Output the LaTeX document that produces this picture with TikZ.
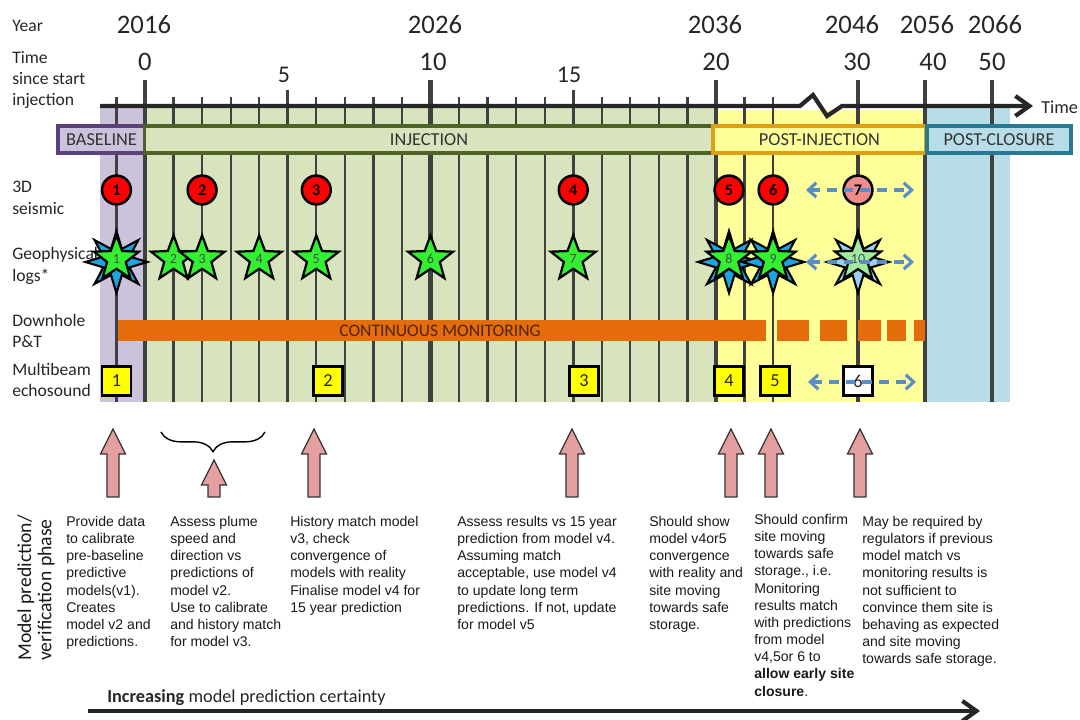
\documentclass[tikz,border=0pt]{standalone}
\usepackage{fontspec}
\setmainfont{Carlito}
\newfontfamily\arialfont{Liberation Sans}
\usepackage{xcolor}
\usetikzlibrary{shapes.geometric, decorations.pathreplacing, arrows.meta}
\definecolor{basebg}{RGB}{204,194,220}
\definecolor{basedark}{RGB}{90,66,120}
\definecolor{injbg}{RGB}{215,228,189}
\definecolor{injdark}{RGB}{79,98,40}
\definecolor{postbg}{RGB}{255,255,153}
\definecolor{postdark}{RGB}{222,160,20}
\definecolor{closebg}{RGB}{183,221,232}
\definecolor{closedark}{RGB}{40,120,145}
\definecolor{monorange}{RGB}{228,108,10}
\definecolor{montext}{RGB}{80,35,5}
\definecolor{seisred}{RGB}{255,0,0}
\definecolor{seispink}{RGB}{240,140,140}
\definecolor{loggreen}{RGB}{51,240,51}
\definecolor{logblue}{RGB}{30,165,225}
\definecolor{palegreen}{RGB}{160,235,160}
\definecolor{paleblue}{RGB}{155,210,240}
\definecolor{echoyellow}{RGB}{255,255,0}
\definecolor{rangeblue}{RGB}{90,140,200}
\definecolor{arrowpink}{RGB}{228,160,160}
\definecolor{gridgray}{RGB}{64,64,64}
\tikzset{
  minortick/.style={gridgray, line width=1.6pt},
  midtick/.style={gridgray, line width=2.2pt},
  majortick/.style={gridgray, line width=3pt},
  timeaxis/.style={black!85, line width=3pt, -{Straight Barb[length=3.5mm, width=5mm]}},
  rowlabel/.style={anchor=west, align=left, inner sep=0pt, text=black!85, font=\fontsize{12.5}{15.2}\selectfont},
  yearnum/.style={inner sep=0pt, text=black!85, font=\fontsize{19}{19}\selectfont},
  phasebox/.style={rectangle, line width=2.2pt, minimum height=0.675cm, inner sep=0pt, text=black!80, font=\fontsize{13}{13}\selectfont},
  seis/.style={circle, draw=black, line width=1.8pt, fill=seisred, minimum size=0.72cm, inner sep=0pt, font=\bfseries\fontsize{11.5}{12}\selectfont},
  logstar/.style={star, star points=5, star point ratio=2.4, draw=black, line width=1.6pt, fill=loggreen, minimum size=1.18cm, inner sep=0pt, text=black!70, font=\fontsize{10}{10}\selectfont},
  logburst/.style={star, star points=8, star point ratio=2.2, draw=black, line width=1.5pt, fill=logblue, minimum size=1.55cm, inner sep=0pt},
  echobox/.style={rectangle, draw=black, line width=1.8pt, fill=echoyellow, minimum size=0.72cm, inner sep=0pt, text=black!85, font=\fontsize{13}{13}\selectfont},
  rangearrow/.style={rangeblue, line width=2.2pt, dash pattern=on 7pt off 5pt, {Straight Barb[length=2mm, width=3.6mm]}-{Straight Barb[length=2mm, width=3.6mm]}},
  notetext/.style={anchor=north west, align=left, inner sep=0pt, text=black!90, font=\arialfont\fontsize{10}{12.2}\selectfont}
}
\newcommand{\yr}[1]{145+28.55*(#1)}
\newcommand{\pinkup}[3]{\draw[fill=arrowpink, draw=black!80, line width=0.9pt] ({#1-6},{#3}) -- ({#1-6},{#2+25}) -- ({#1-12.5},{#2+25}) -- ({#1},{#2}) -- ({#1+12.5},{#2+25}) -- ({#1+6},{#2+25}) -- ({#1+6},{#3}) -- cycle;}

\begin{document}
\begin{tikzpicture}[x=0.025cm, y=-0.025cm]
\useasboundingbox (0,0) rectangle (1080,720);
% phase backgrounds
\fill[basebg] (100,107) rectangle (145,402);
\fill[injbg] (145,107) rectangle (716,402);
\fill[postbg] (716,110) rectangle (925,402);
\fill[closebg] (925,107) rectangle (1010,402);
% ticks
\foreach \t in {-1,1,2,3,4,6,7,8,9,11,12,13,14,16,17,18,19,21,22}
  \draw[minortick] ({\yr{\t}},97) -- ({\yr{\t}},402);
\foreach \t in {5,15}
  \draw[midtick] ({\yr{\t}},90) -- ({\yr{\t}},402);
\foreach \x in {145,430.5,716,858,925,992}
  \draw[majortick] (\x,80) -- (\x,402);
% time axis with break
\coordinate (axstart) at (100,106);
\coordinate (axend) at (1033,106);
\draw[timeaxis] (axstart) -- (800,106) -- (813,95) -- (827,116) -- (842,106) -- (axend);
\node[rowlabel, font=\fontsize{13}{13}\selectfont] (timelbl) at (1041,107) {Time};
% row labels
\node[rowlabel] (yearlbl) at (12,26) {Year};
\node[rowlabel] (sincelbl) at (12,80) {Time\\since start\\injection};
\node[rowlabel] (seislbl) at (12,198) {3D\\seismic};
\node[rowlabel] (loglbl) at (12,266) {Geophysical\\logs*};
\node[rowlabel] (pandtlbl) at (12,331) {Downhole\\P\&T};
\node[rowlabel] (echolbl) at (12,380) {Multibeam\\echosound};
% years and time since injection
\node[yearnum] (y2016) at (144,25) {2016};
\node[yearnum] (y2026) at (435,25) {2026};
\node[yearnum] (y2036) at (715,25) {2036};
\node[yearnum] (y2046) at (852,25) {2046};
\node[yearnum] (y2056) at (927,25) {2056};
\node[yearnum] (y2066) at (995,25) {2066};
\node[yearnum] (t0) at (145,62) {0};
\node[yearnum, font=\fontsize{17}{17}\selectfont] (t5) at (284,75) {5};
\node[yearnum] (t10) at (433,62) {10};
\node[yearnum, font=\fontsize{17}{17}\selectfont] (t15) at (569,75) {15};
\node[yearnum] (t20) at (716,62) {20};
\node[yearnum] (t30) at (857,62) {30};
\node[yearnum] (t40) at (933,62) {40};
\node[yearnum] (t50) at (992,62) {50};
% phases
\node[phasebox, fill=basebg, draw=basedark, minimum width=2.175cm] (basebox) at (101.5,139.5) {BASELINE};
\node[phasebox, fill=injbg, draw=injdark, minimum width=14.2cm] (injbox) at (429,139.5) {INJECTION};
\node[phasebox, fill=postbg, draw=postdark, minimum width=5.325cm] (postbox) at (819.5,139.5) {POST-INJECTION};
\node[phasebox, fill=closebg, draw=closedark, minimum width=3.6cm] (closebox) at (999,139.5) {POST-CLOSURE};
% downhole P&T
\fill[monorange] (118,320) rectangle (766,341);
\foreach \a/\b in {777/809,820/847,858/881,887/906,914/925}
  \fill[monorange] (\a,320) rectangle (\b,341);
\node[font=\fontsize{12.5}{12.5}\selectfont, text=montext, inner sep=0pt] (monitor) at (440,331) {CONTINUOUS MONITORING};
% 3D seismic
\node[seis] (s1) at ({\yr{-1}},190) {1};
\node[seis] (s2) at ({\yr{2}},190) {2};
\node[seis] (s3) at ({\yr{6}},190) {3};
\node[seis] (s4) at ({\yr{15}},190) {4};
\node[seis] (s5) at (729,190) {5};
\node[seis] (s6) at ({\yr{22}},190) {6};
\node[seis, fill=seispink] (s7) at (858,190) {7};
% geophysical logs
\node[logburst] (b1) at ({\yr{-1}},262) {};
\node[logburst] (b8) at (729,262) {};
\node[logburst] (b9) at ({\yr{22}},262) {};
\node[logburst, fill=paleblue] (b10) at (858,262) {};
\node[logstar] (g1) at ({\yr{-1}},259) {1};
\node[logstar] (g2) at ({\yr{1}},259) {2};
\node[logstar] (g3) at ({\yr{2}},259) {3};
\node[logstar] (g4) at ({\yr{4}},259) {4};
\node[logstar] (g5) at ({\yr{6}},259) {5};
\node[logstar] (g6) at ({\yr{10}},259) {6};
\node[logstar] (g7) at ({\yr{15}},259) {7};
\node[logstar] (g8) at (729,259) {8};
\node[logstar] (g9) at ({\yr{22}},259) {9};
\node[logstar, fill=palegreen] (g10) at (858,259) {10};
% multibeam echosound
\node[echobox] (e1) at ({\yr{-1}},381) {1};
\node[echobox] (e2) at (328,381) {2};
\node[echobox] (e3) at (584,381) {3};
\node[echobox] (e4) at (729,381) {4};
\node[echobox] (e5) at (775,381) {5};
\node[echobox, fill=white] (e6) at (858,381) {6};
% optional repeats
\coordinate (r1a) at (806,190); \coordinate (r1b) at (914,190);
\coordinate (r2a) at (806,262); \coordinate (r2b) at (914,262);
\coordinate (r3a) at (808,382); \coordinate (r3b) at (916,382);
\draw[rangearrow] (r1a) -- (r1b);
\draw[rangearrow] (r2a) -- (r2b);
\draw[rangearrow] (r3a) -- (r3b);
% model prediction / verification
\pinkup{113}{429}{497}
\draw[decorate, decoration={brace, mirror, amplitude=14pt}, line width=1pt] (161,432) -- (265,432);
\pinkup{214}{460}{497}
\pinkup{314}{429}{497}
\pinkup{572}{429}{497}
\pinkup{731}{429}{497}
\pinkup{771}{429}{497}
\pinkup{860}{429}{497}
\node[rotate=90, align=left, inner sep=0pt, text=black!90, font=\fontsize{14}{14.5}\selectfont] (phaselbl) at (36,588) {Model prediction/\\verification phase};
\node[notetext] (n1) at (66,516) {Provide data\\to calibrate\\pre-baseline\\predictive\\models(v1).\\Creates\\model v2 and\\predictions.};
\node[notetext] (n2) at (170,516) {Assess plume\\speed and\\direction vs\\predictions of\\model v2.\\Use to calibrate\\and history match\\for model v3.};
\node[notetext] (n3) at (290,516) {History match model\\v3, check\\convergence of\\models with reality\\Finalise model v4 for\\15 year prediction};
\node[notetext] (n4) at (457,516) {Assess results vs 15 year\\prediction from model v4.\\Assuming match\\acceptable, use model v4\\to update long term\\predictions. If not, update\\for model v5};
\node[notetext] (n5) at (649,516) {Should show\\model v4or5\\convergence\\with reality and\\site moving\\towards safe\\storage.};
\node[notetext] (n6) at (754,514) {Should confirm\\site moving\\towards safe\\storage., i.e.\\Monitoring\\results match\\with predictions\\from model\\v4,5or 6 to\\\textbf{allow early site}\\\textbf{closure}.};
\node[notetext] (n7) at (862,516) {May be required by\\regulators if previous\\model match vs\\monitoring results is\\not sufficient to\\convince them site is\\behaving as expected\\and site moving\\towards safe storage.};
% certainty
\node[anchor=base west, inner sep=0pt, text=black!85, font=\fontsize{13}{13}\selectfont] (certainty) at (107,703) {\textbf{Increasing} model prediction certainty};
\coordinate (certstart) at (88,711);
\coordinate (certend) at (980,711);
\draw[timeaxis] (certstart) -- (certend);
\end{tikzpicture}
\end{document}
